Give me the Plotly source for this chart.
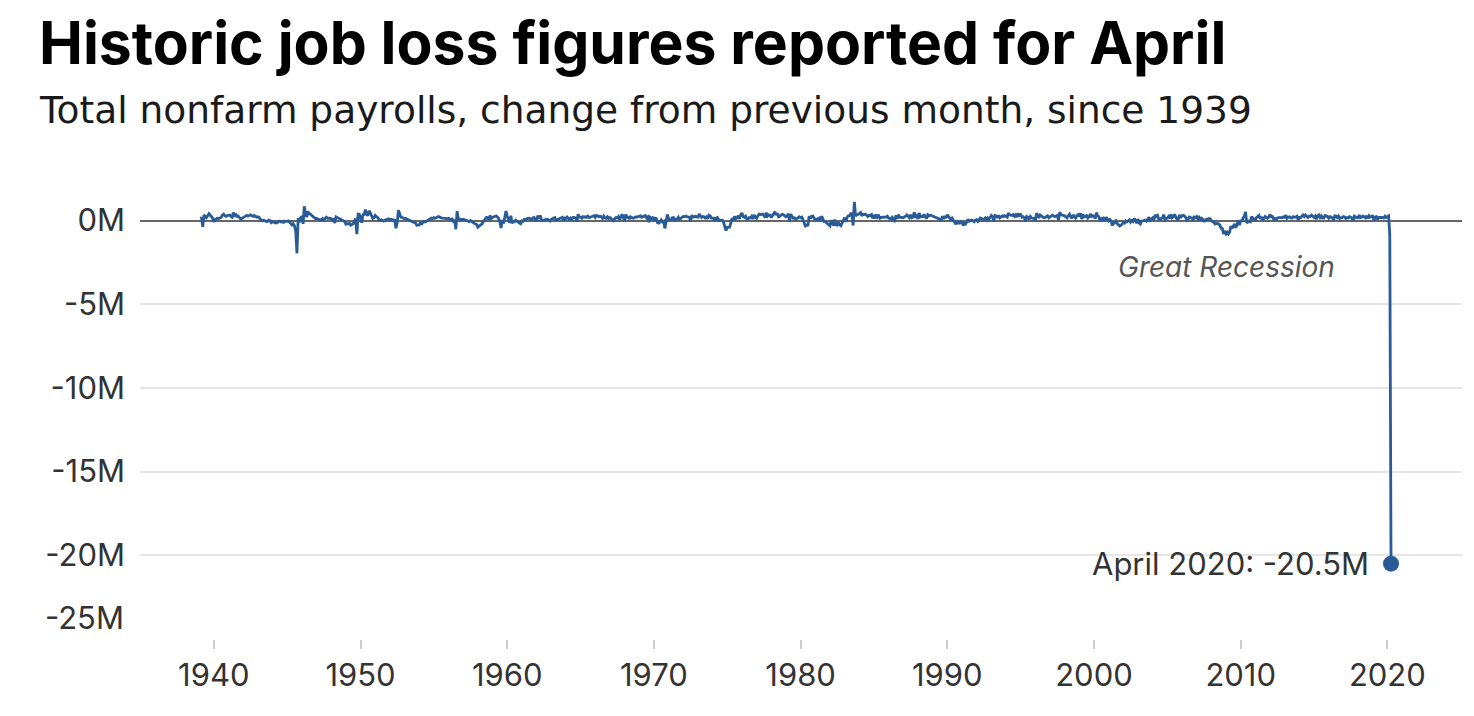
import pandas as pd
import plotly.graph_objects as go

# Monthly change in total nonfarm payrolls, thousands (Feb 1939 - Apr 2020)
jobs_1930s = {
    1939: [120, 180, -380, 340, 230, 170, 280, 410, 330, 260, 150],
}
jobs_1940s = {
    1940: [-80, 60, 90, 140, 120, 150, 180, 320, 380, 290, 250, 300],
    1941: [310, 330, 250, 200, 480, 300, 360, 250, 270, 150, 90, 130],
    1942: [180, 240, 250, 310, 260, 330, 340, 290, 250, 300, 240, 200],
    1943: [230, 190, 80, 40, -20, 10, -30, -60, -50, 20, -10, -130],
    1944: [-70, -100, -120, -150, -130, -50, -40, -90, -60, -110, -40, -60],
    1945: [-50, -20, -90, -130, -260, -190, -310, -640, -1959, 150, -120, 170],
    1946: [250, -200, 850, 450, 200, 550, 420, 380, 300, 250, 150, 120],
    1947: [130, 90, 60, 30, 50, 120, 40, 150, 200, 130, 150, 140],
    1948: [100, 20, 120, -150, 220, 180, 100, 80, 60, 30, -40, -60],
    1949: [-220, -180, -190, -160, -280, -240, -200, -30, 110, -820, 380, 370],
}
jobs_1950s = {
    1950: [100, -130, 340, 360, 650, 380, 290, 580, 450, 280, 130, 160],
    1951: [310, 230, 190, 60, 10, 40, -10, -30, 30, 30, 70, 100],
    1952: [60, 80, 30, 50, 20, -460, -150, 620, 310, 200, 190, 160],
    1953: [100, 120, 70, 20, 10, -20, -60, -90, -120, -150, -280, -270],
    1954: [-260, -120, -240, -110, -50, -80, -30, 20, 60, 100, 150, 110],
    1955: [170, 140, 190, 210, 240, 180, 160, 140, 130, 150, 120, 110],
    1956: [140, 80, 60, 90, -40, 30, -520, 560, 100, 90, 60, 50],
    1957: [80, 50, 20, 10, -40, -60, 0, -70, -90, -160, -200, -240],
    1958: [-400, -310, -280, -230, -110, 20, 90, 190, 170, 40, 300, 120],
    1959: [180, 220, 250, 280, 210, 140, -60, -450, 30, -180, 180, 570],
}
jobs_1960s = {
    1960: [260, 40, -140, 290, -170, -50, -70, 20, -60, -120, -160, -200],
    1961: [-20, -40, 60, 60, 110, 130, 140, 110, 60, 150, 180, 80],
    1962: [-50, 300, 100, 300, 50, -10, 50, 60, 70, 80, 20, -30],
    1963: [70, 100, 170, 170, 20, 60, 100, 110, 140, 190, 10, 150],
    1964: [120, 210, 140, 60, 150, 90, 190, 190, 150, -70, 370, 200],
    1965: [200, 140, 230, 200, 220, 190, 260, 170, 200, 200, 220, 290],
    1966: [180, 300, 280, 230, 260, 230, 130, 260, 160, 130, 220, 120],
    1967: [180, 120, 50, -10, 110, 180, 160, 240, 50, 170, 370, 190],
    1968: [-60, 370, 150, 260, 80, 220, 190, 140, 170, 220, 210, 230],
    1969: [250, 280, 190, 230, 230, 290, 160, 220, -100, 190, 120, 170],
}
jobs_1970s = {
    1970: [40, 140, 120, -130, -160, -100, 30, -80, -40, -470, -50, 360],
    1971: [110, 30, 40, 170, 180, -30, 80, 90, 200, 60, 130, 210],
    1972: [240, 230, 270, 230, 220, 190, -30, 310, 200, 230, 250, 220],
    1973: [200, 390, 260, 180, 240, 220, 150, 220, 110, 320, 280, 140],
    1974: [140, 140, -30, 140, 180, 40, 30, 0, 20, -110, -360, -600],
    1975: [-410, -390, -400, -120, 140, 20, 240, 110, 160, 280, 100, 340],
    1976: [450, 230, 190, 260, 90, 90, 170, 150, 250, 90, 340, 200],
    1977: [130, 280, 380, 350, 380, 390, 320, 170, 470, 260, 340, 320],
    1978: [180, 330, 410, 530, 330, 440, 220, 250, 330, 360, 340, 270],
    1979: [220, 270, 410, -60, 380, 240, 140, 160, 70, 110, 180, 220],
}
jobs_1980s = {
    1980: [170, 200, 50, -100, -330, -290, -270, 260, 110, 260, 270, 140],
    1981: [40, 70, 120, 140, 0, 240, 160, -50, -60, -130, -220, -300],
    1982: [-320, 10, -160, -300, 60, -260, -280, -130, -250, -300, -140, 20],
    1983: [170, -80, 180, 280, 280, 410, 420, -300, 1110, 270, 350, 360],
    1984: [450, 480, 280, 370, 360, 380, 320, 240, 310, 290, 350, 130],
    1985: [250, 130, 360, 200, 280, 140, 190, 200, 210, 180, 210, 260],
    1986: [140, 130, 60, 190, 110, -90, 320, 120, 350, 200, 190, 200],
    1987: [170, 230, 250, 340, 220, 170, 340, 170, 220, 490, 230, 290],
    1988: [90, 450, 220, 250, 230, 360, 220, 120, 340, 270, 330, 300],
    1989: [260, 250, 190, 170, 120, 110, 40, 50, 250, 100, 260, 150],
}
jobs_1990s = {
    1990: [340, 240, 210, 50, 140, 10, -50, -220, 10, -150, -150, -60],
    1991: [-130, -300, -160, -210, -80, 70, -40, -20, 30, -10, -70, 20],
    1992: [50, -50, 60, 150, 120, 60, 80, 150, 40, 150, 80, 220],
    1993: [300, 210, -60, 300, 280, 160, 310, 160, 230, 280, 240, 290],
    1994: [250, 200, 450, 340, 320, 300, 360, 250, 340, 210, 420, 300],
    1995: [350, 200, 230, 170, -30, 240, 190, 80, 240, 150, 130, 140],
    1996: [-10, 440, 280, 160, 330, 280, 230, 160, 180, 230, 280, 160],
    1997: [230, 310, 320, 280, 230, 270, 300, 30, 500, 340, 300, 310],
    1998: [280, 190, 160, 290, 380, 230, 130, 330, 200, 150, 280, 350],
    1999: [250, 430, 90, 370, 220, 260, 290, 150, 220, 390, 240, 290],
}
jobs_2000s = {
    2000: [250, 110, 470, 290, 230, -50, 170, 0, 120, 0, 200, 90],
    2001: [-20, 60, -30, -300, -50, -130, -30, -170, -240, -330, -290, -170],
    2002: [-130, -150, -30, -80, -10, 40, -100, 0, -60, 120, 20, -170],
    2003: [90, -160, -210, -30, -20, -10, 20, -40, 90, 190, 10, 110],
    2004: [150, 40, 330, 250, 310, 80, 50, 120, 160, 350, 60, 130],
    2005: [140, 240, 140, 360, 170, 240, 370, 190, 70, 90, 340, 160],
    2006: [280, 310, 280, 180, 20, 80, 210, 180, 160, 4, 210, 170],
    2007: [240, 90, 190, 80, 140, 80, -30, -20, 80, 80, 120, 100],
    2008: [10, -80, -80, -210, -180, -170, -210, -270, -460, -480, -800, -620],
    2009: [-790, -700, -800, -680, -340, -470, -340, -210, -440, -210, -10, -280],
}
jobs_2010s = {
    2010: [20, -60, 160, 250, 520, -140, -80, -30, -70, 230, 140, 90],
    2011: [40, 190, 230, 310, 100, 220, 70, 110, 240, 190, 140, 200],
    2012: [360, 230, 240, 80, 120, 60, 150, 170, 170, 140, 180, 220],
    2013: [190, 310, 140, 200, 220, 170, 140, 230, 190, 210, 250, 40],
    2014: [190, 170, 270, 330, 240, 330, 250, 180, 260, 240, 320, 280],
    2015: [190, 270, 80, 260, 330, 180, 280, 150, 150, 300, 250, 240],
    2016: [130, 230, 210, 160, 20, 280, 270, 180, 270, 120, 170, 160],
    2017: [230, 210, 120, 180, 150, 230, 190, 160, -20, 260, 220, 160],
    2018: [170, 330, 180, 200, 270, 230, 170, 280, 120, 280, 200, 230],
    2019: [310, 1, 190, 230, 70, 190, 190, 210, 180, 150, 260, 180],
}
jobs_2020s = {
    2020: [210, 270, -870, -20500],
}

y_tick_values = [0, -5, -10, -15, -20, -25]
y_tick_labels = ["0M", "-5M", "-10M", "-15M", "-20M", "-25M"]
x_tick_years = [1940, 1950, 1960, 1970, 1980, 1990, 2000, 2010, 2020]

dates, values = [], []
for block in [jobs_1930s, jobs_1940s, jobs_1950s, jobs_1960s, jobs_1970s,
              jobs_1980s, jobs_1990s, jobs_2000s, jobs_2010s, jobs_2020s]:
    for year, row in block.items():
        start = 13 - len(row) if year == 1939 else 1
        for i, v in enumerate(row):
            dates.append(pd.Timestamp(year=year, month=start + i, day=1))
            values.append(v / 1000.0)

LINE = "#285b98"
FONT = "Inter"
TXT = "#333333"
TICK = 31

fig = go.Figure()
fig.add_trace(go.Scatter(x=dates, y=values, mode="lines",
                         line=dict(color=LINE, width=2.8), hoverinfo="skip"))
fig.add_trace(go.Scatter(x=[dates[-1]], y=[values[-1]], mode="markers",
                         marker=dict(color=LINE, size=16), hoverinfo="skip"))

fig.update_layout(
    width=1474, height=716,
    margin=dict(l=140, r=12, t=177, b=77),
    paper_bgcolor="white", plot_bgcolor="white",
    showlegend=False,
    font=dict(family=FONT, color=TXT, size=TICK),
    xaxis=dict(
        type="date",
        range=["1934-12-20", "2025-02-01"],
        tickvals=[pd.Timestamp(year=y, month=1, day=1) for y in x_tick_years],
        ticktext=[str(y) for y in x_tick_years],
        showgrid=False, zeroline=False,
        ticks="outside", ticklen=9, tickwidth=1.5, tickcolor="#cccccc",
        showline=False,
        tickfont=dict(size=TICK, color=TXT),
    ),
    yaxis=dict(
        range=[-25, 2.6],
        tickvals=y_tick_values,
        ticktext=[t if v != -25 else "" for v, t in zip(y_tick_values, y_tick_labels)],
        showgrid=True, gridcolor="#e6e6e6", gridwidth=1.5,
        zeroline=True, zerolinecolor="#666666", zerolinewidth=1.5,
        ticks="", ticklabelstandoff=14,
        tickfont=dict(size=TICK, color=TXT),
    ),
)

fig.add_annotation(text="-25M", xref="paper", yref="y", x=0, y=-25,
                   xanchor="right", yanchor="middle", xshift=-14, yshift=22,
                   showarrow=False, font=dict(size=TICK, color=TXT, family=FONT))

fig.add_annotation(text="<b>Historic job loss figures reported for April</b>",
                   xref="paper", yref="paper", x=(37 - 140) / 1322, y=(639 - 43) / 461.5,
                   xanchor="left", yanchor="middle", showarrow=False,
                   font=dict(size=58.8, color="#000000", family=FONT))
fig.add_annotation(text="Total nonfarm payrolls, change from previous month, since 1939",
                   xref="paper", yref="paper", x=(37 - 140) / 1322, y=(639 - 111) / 461.5,
                   xanchor="left", yanchor="middle", showarrow=False,
                   font=dict(size=37.5, color="#1a1a1a", family="DejaVu Sans"))

fig.add_annotation(text="<i>Great Recession</i>", x=pd.Timestamp("2009-01-01"), y=-2.75,
                   xref="x", yref="y", showarrow=False,
                   font=dict(size=28, color="#555555", family=FONT))
fig.add_annotation(text="April 2020: -20.5M", x=dates[-1], y=values[-1],
                   xref="x", yref="y", xanchor="right", yanchor="middle",
                   xshift=-20, showarrow=False,
                   font=dict(size=TICK, color=TXT, family=FONT))

fig.write_html("out.html")
